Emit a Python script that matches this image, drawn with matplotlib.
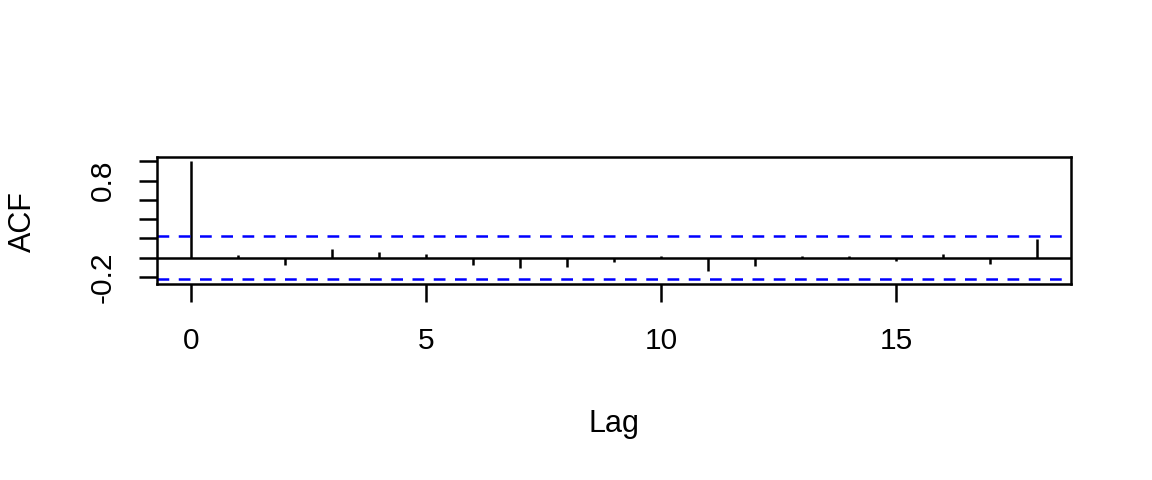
import numpy as np
import matplotlib
matplotlib.use('Agg')
import matplotlib.pyplot as plt

plt.rcParams['font.family'] = ['Liberation Sans', 'DejaVu Sans']

# autocorrelation values
lags = np.arange(0, 19)
acf = [1.0, 0.031, -0.080, 0.084, 0.056, 0.035, -0.080, -0.112, -0.098,
       -0.049, 0.021, -0.140, -0.084, 0.021, 0.021, -0.035, 0.035, -0.066, 0.192]
ci = 0.226
yticks = [-0.2, 0.0, 0.2, 0.4, 0.6, 0.8, 1.0]
ytick_labels = ['-0.2', '', '', '', '', '0.8', '']
xticks = [0, 5, 10, 15]

fig = plt.figure(figsize=(11.52, 4.8), dpi=100)
ax = fig.add_axes([157 / 1152, 1 - 284 / 480, (1071 - 157) / 1152, (284 - 156.7) / 480])

ax.vlines(lags, 0, acf, colors='black', linewidth=1.8)
ax.axhline(0, color='black', linewidth=1.8)
for y in (ci, -ci):
    ax.axhline(y, color='#0000FF', linewidth=1.8, dashes=(4.7, 3.8))

rng = 1 + ci
ax.set_ylim(-ci - 0.04 * rng, 1 + 0.04 * rng)
ax.set_xlim(-0.04 * 18, 18 * 1.04)

ax.set_xticks(xticks)
ax.set_xticklabels([str(v) for v in xticks])
ax.set_yticks(yticks)
ax.set_yticklabels(ytick_labels, rotation=90, va='center')
ax.tick_params(axis='both', direction='out', length=13, width=1.8, labelsize=21.5)
ax.tick_params(axis='x', pad=18)
ax.tick_params(axis='y', pad=16)
for s in ax.spines.values():
    s.set_linewidth(1.8)

fig.text(614 / 1152, 1 - 431.7 / 480, 'Lag', ha='center', va='baseline', fontsize=22)
fig.text(23 / 1152, 1 - 221.7 / 480, 'ACF', ha='center', va='center', rotation=90, fontsize=22)

fig.savefig('out.png', dpi=100)
